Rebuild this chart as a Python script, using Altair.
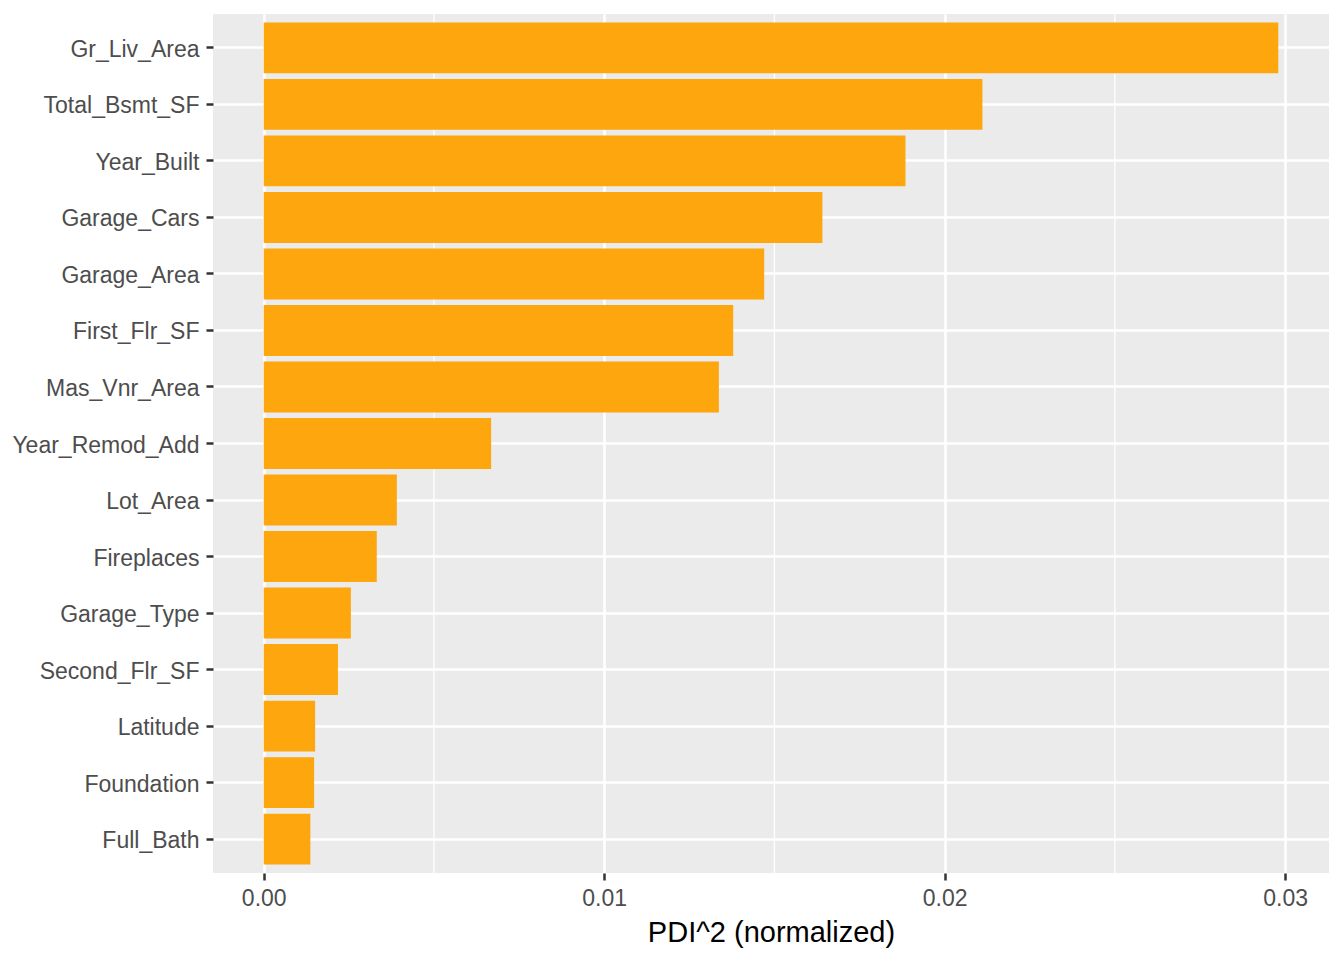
import altair as alt
import pandas as pd

features = ["Gr_Liv_Area", "Total_Bsmt_SF", "Year_Built", "Garage_Cars", "Garage_Area",
            "First_Flr_SF", "Mas_Vnr_Area", "Year_Remod_Add", "Lot_Area", "Fireplaces",
            "Garage_Type", "Second_Flr_SF", "Latitude", "Foundation", "Full_Bath"]
pdi2 = [0.02980, 0.02111, 0.01885, 0.01641, 0.01470,
        0.01379, 0.01337, 0.00668, 0.00391, 0.00332,
        0.00256, 0.00218, 0.00151, 0.00148, 0.00137]
major_breaks = [0.0, 0.01, 0.02, 0.03]
minor_breaks = [0.005, 0.015, 0.025]

df = pd.DataFrame({"feature": features, "pdi2": pdi2})
minor_df = pd.DataFrame({"m": minor_breaks})

FONT = "Liberation Sans"
xscale = alt.Scale(domain=[-0.00149, 0.03129], nice=False, zero=False)
xaxis = alt.Axis(values=major_breaks, format=".2f", title="PDI^2 (normalized)",
                 grid=True, gridColor="white", gridWidth=2.6,
                 domain=False, ticks=True, tickColor="#333333", tickWidth=2.5,
                 tickSize=7, labelFont=FONT, labelFontSize=23, labelColor="#4D4D4D",
                 labelPadding=7, labelFlush=False, labelOverlap=False,
                 titleFont=FONT, titleFontSize=29,
                 titleFontWeight="normal", titleColor="black", titlePadding=8)

minor = alt.Chart(minor_df).mark_rule(color="white", strokeWidth=1.3).encode(
    x=alt.X("m:Q", scale=xscale, axis=xaxis, title="PDI^2 (normalized)")
)

bars = alt.Chart(df).mark_bar(color="#FDA60E").encode(
    x=alt.X("pdi2:Q", scale=xscale, axis=xaxis, title="PDI^2 (normalized)"),
    y=alt.Y("feature:N", sort=features,
            scale=alt.Scale(paddingInner=0.1, paddingOuter=0.15),
            axis=alt.Axis(title=None, grid=True, gridColor="white", gridWidth=2.6,
                          bandPosition=0.5, domain=False, ticks=True, tickColor="#333333",
                          tickWidth=2.5, tickSize=7, labelFont=FONT, labelFontSize=23,
                          labelColor="#4D4D4D", labelPadding=7, labelLimit=400,
                          labelOffset=2)),
)

chart = alt.layer(minor, bars).properties(
    width=1116, height=859,
    autosize=alt.AutoSizeParams(type="none"),
    padding={"left": 205, "top": 6, "right": 7, "bottom": 80},
    background="white",
).configure_view(fill="#EBEBEB", stroke=None)

chart.save("out.html", embed_options={"renderer": "svg", "actions": False})
